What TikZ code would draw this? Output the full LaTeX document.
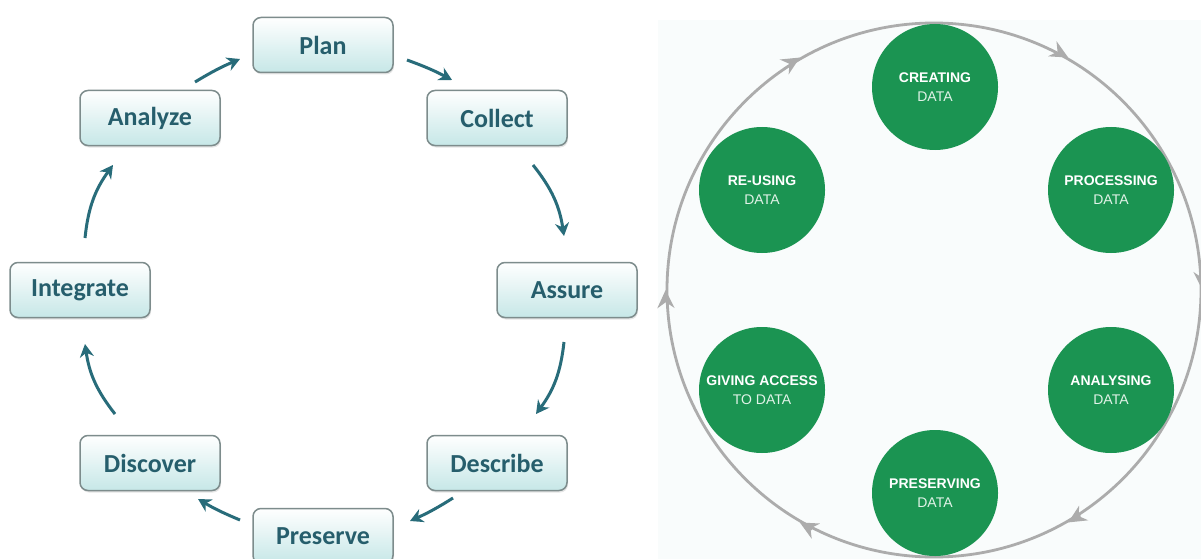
\documentclass[tikz,border=0pt]{standalone}
\usepackage{fontspec}
\newfontfamily\calibri{Carlito}
\newfontfamily\arial{Liberation Sans}
\usetikzlibrary{arrows.meta,shadows}
\definecolor{teal1}{RGB}{40,108,122}
\definecolor{boxtext}{RGB}{38,94,108}
\definecolor{boxborder}{RGB}{125,140,140}
\definecolor{boxbottom}{RGB}{198,231,231}
\definecolor{dgreen}{RGB}{27,148,82}
\definecolor{ringgray}{RGB}{172,172,172}
\definecolor{panelbg}{RGB}{249,252,252}
\definecolor{datatext}{RGB}{225,243,232}
\begin{document}
\begin{tikzpicture}[x=1pt,y=1pt,
 stagebox/.style={rounded corners=8pt, draw=boxborder, line width=1.5pt, top color=white, bottom color=boxbottom, minimum width=140pt, minimum height=55pt, font=\calibri\bfseries\fontsize{26}{29}\selectfont, text=boxtext, drop shadow={opacity=0.2, shadow xshift=1pt, shadow yshift=-2pt}},
 flow/.style={teal1, line width=3pt, -{Stealth[length=13pt,width=14pt]}},
 phase/.style={circle, fill=dgreen, minimum size=126pt, inner sep=0pt, align=center, text=white, font=\arial\fontsize{14}{19.5}\selectfont},
 ringline/.style={ringgray, line width=2.8pt},
 ringtip/.style={ringgray, line width=2.8pt, -{Stealth[length=18pt,width=17pt]}}
]
\useasboundingbox (0,0) rectangle (1201,-559);
\fill[white] (0,0) rectangle (1201,-559);
\fill[panelbg] (658,-20) rectangle (1201,-559);

% ---------- left cycle ----------
\node[stagebox] (plan)      at (323,-45)  {Plan};
\node[stagebox] (collect)   at (497,-118) {Collect};
\node[stagebox] (assure)    at (567,-290) {Assure};
\node[stagebox] (describe)  at (497,-463) {Describe};
\node[stagebox] (preserve)  at (323,-536) {Preserve};
\node[stagebox] (discover)  at (150,-463) {Discover};
\node[stagebox] (integrate) at (80,-290)  {Integrate};
\node[stagebox] (analyze)   at (150,-118) {Analyze};

\coordinate (a1) at (195,-82);  \coordinate (b1) at (240,-59);
\coordinate (a2) at (407,-60);  \coordinate (b2) at (452,-80);
\coordinate (a3) at (533,-165); \coordinate (b3) at (564,-236);
\coordinate (a4) at (564,-342); \coordinate (b4) at (536,-414);
\coordinate (a5) at (453,-498); \coordinate (b5) at (410,-521);
\coordinate (a6) at (240,-520); \coordinate (b6) at (198,-499);
\coordinate (a7) at (115,-414); \coordinate (b7) at (85,-344);
\coordinate (a8) at (85,-238);  \coordinate (b8) at (113,-165);

\draw[flow] (a1) to[bend left=4] (b1);
\draw[flow] (a2) to[bend left=4] (b2);
\draw[flow] (a3) to[bend left=15] (b3);
\draw[flow] (a4) to[bend left=15] (b4);
\draw[flow] (a5) to[bend left=4] (b5);
\draw[flow] (a6) to[bend left=4] (b6);
\draw[flow] (a7) to[bend left=15] (b7);
\draw[flow] (a8) to[bend left=15] (b8);

% ---------- right cycle ----------
\node[ringline, draw, circle, minimum size=534pt, inner sep=0pt] (ring) at (934,-290) {};
\foreach \a in {180,120,60,0,-60,-120}{
  \draw[ringtip] (ring.\a+2.5) -- (ring.\a);
}
\node[phase] (creating)   at (935,-87)  {\textbf{CREATING}\\{\color{datatext}DATA}};
\node[phase] (processing) at (1111,-190) {\textbf{PROCESSING}\\{\color{datatext}DATA}};
\node[phase] (analysing)  at (1111,-390) {\textbf{ANALYSING}\\{\color{datatext}DATA}};
\node[phase] (preserving) at (935,-493) {\textbf{PRESERVING}\\{\color{datatext}DATA}};
\node[phase] (giving)     at (762,-390) {\textbf{GIVING ACCESS}\\{\color{datatext}TO DATA}};
\node[phase] (reusing)    at (762,-190) {\textbf{RE-USING}\\{\color{datatext}DATA}};
\end{tikzpicture}
\end{document}
